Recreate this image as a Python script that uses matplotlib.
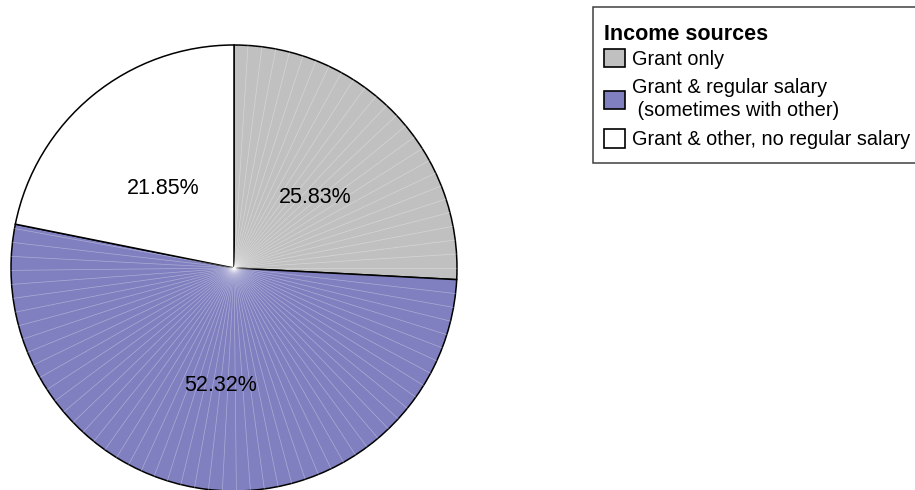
import matplotlib
matplotlib.use('Agg')

import numpy             as np
import matplotlib.pyplot as plt
from matplotlib.patches import Patch, Rectangle

plt.rcParams['font.family'] = ['Liberation Sans', 'DejaVu Sans']

# ===== Data
labels  = ['Grant only',
           'Grant & regular salary\n (sometimes with other)',
           'Grant & other, no regular salary']
shares  = [25.83, 52.32, 21.85]
colors  = ['#c0c0c0', '#8080c0', '#ffffff']

# ===== Figure & axes (pie radius 1 -> 223 px, centre at 234,268)
W, H = 915, 490
fig = plt.figure(figsize=(W/100., H/100.), dpi=100)
cx, cy, r = 234, 268, 223
ax = fig.add_axes([(cx-r)/W, (H-cy-r)/H, 2*r/W, 2*r/H])

wedges, texts, autotexts = ax.pie(shares, colors=colors, startangle=90, counterclock=False,
                                  autopct='%.2f%%', pctdistance=0.5,
                                  wedgeprops=dict(edgecolor='black', linewidth=1.1),
                                  textprops=dict(fontsize=15.5, color='black'))
for t in autotexts:
   x, y = t.get_position()
   t.set_position((x, y-0.03))

# Faint radial banding inside the shaded slices
theta0 = 90.
for frac, col in zip(shares, colors):
   span = frac/100.*360.
   if col != '#ffffff':
      for a in np.arange(theta0-3.6, theta0-span, -3.6):
         t = np.deg2rad(a)
         ax.plot([0, np.cos(t)], [0, np.sin(t)], color='white', lw=0.5, alpha=0.35, zorder=1.5)
   theta0 -= span

ax.set_xlim(-1, 1)
ax.set_ylim(-1, 1)
ax.set_aspect('equal')
ax.axis('off')

# ===== Legend (frame drawn separately, runs past the right edge)
frame = Rectangle((592.5/W, 1-163/H), 0.5, (163-7.3)/H, transform=fig.transFigure,
                  facecolor='white', edgecolor='#404040', linewidth=1.1, zorder=0)
fig.patches.append(frame)

fig.text(604/W, 1-35/H, 'Income sources', fontsize=15.5, fontweight='bold',
         ha='left', va='center')

handles = [Patch(facecolor=c, edgecolor='black', linewidth=1.2) for c in colors]
lgd = fig.legend(handles, labels, loc='upper left', bbox_to_anchor=(604/W, 1-49/H),
                 fontsize=14.3, frameon=False, borderpad=0, borderaxespad=0,
                 handlelength=1.05, handleheight=1.05, handletextpad=0.35,
                 labelspacing=0.45)
lgd.get_texts()[1].set_linespacing(1.3)

plt.savefig('out.png', dpi=100)
plt.close()
